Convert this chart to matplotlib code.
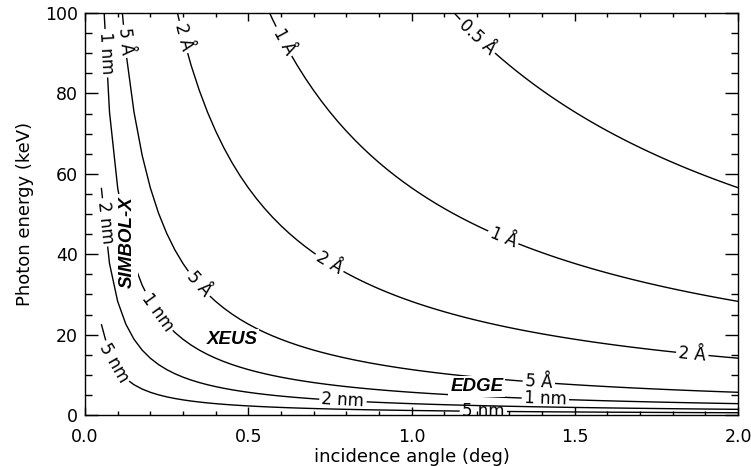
import numpy as np
import matplotlib.pyplot as plt

# roughness contours: sigma = hc / (4 pi E sin(theta))
hc = 12.398  # keV * Angstrom
sigma_levels = [0.5, 1, 2, 5, 10, 20, 50]  # Angstrom
sigma_text = ["0.5 Å", "1 Å", "2 Å", "5 Å", "1 nm", "2 nm", "5 nm"]

missions = ["SIMBOL-X", "XEUS", "EDGE"]
mission_angle = [0.13, 0.45, 1.20]
mission_energy = [43, 18.7, 7]
mission_rot = [90, 0, 0]

label_spots = [
    (1.20, 94), (0.61, 93), (0.30, 94), (0.13, 93), (0.066, 90),
    (0.07, 48), (0.34, 32), (0.21, 25), (0.09, 13),
    (1.28, 44), (0.75, 38), (1.86, 15.2), (1.39, 8.1),
    (1.41, 4.0), (0.79, 3.6), (1.22, 0.9),
]

# angle grid starts at 0.05 deg (as in the original computation)
theta = np.arange(0.05, 2.0001, 0.025)
energy = np.linspace(0.1, 100, 1000)
T, E = np.meshgrid(theta, energy)
sigma = hc / (4 * np.pi * E * np.sin(np.radians(T)))

fig = plt.figure(figsize=(7.51, 4.66), dpi=100)
ax = fig.add_axes([0.1132, 0.1094, 0.8695, 0.8627])

cs = ax.contour(T, E, sigma, levels=sigma_levels, colors="black", linewidths=1.0)
ax.clabel(cs, manual=label_spots, fmt=dict(zip(sigma_levels, sigma_text)),
          inline=True, fontsize=12, inline_spacing=3)

for name, x, y, r in zip(missions, mission_angle, mission_energy, mission_rot):
    ax.text(x, y, name, rotation=r, ha="center", va="center", fontsize=13.5,
            family="Liberation Sans", weight="bold", style="italic",
            bbox=dict(facecolor="white", edgecolor="none", pad=1.5), zorder=5)

ax.set_xlim(0, 2.0)
ax.set_ylim(0, 100)
ax.set_xticks([0.0, 0.5, 1.0, 1.5, 2.0])
ax.set_xticklabels(["0.0", "0.5", "1.0", "1.5", "2.0"])
ax.set_xticks(np.arange(0, 2.01, 0.1), minor=True)
ax.set_yticks([0, 20, 40, 60, 80, 100])
ax.set_yticks(np.arange(0, 101, 5), minor=True)
ax.tick_params(axis="both", which="both", direction="in", top=True, right=True,
               labelsize=12.5, width=1.0)
ax.tick_params(axis="x", which="major", length=6, pad=9)
ax.tick_params(axis="x", which="minor", length=3)
ax.tick_params(axis="y", which="major", length=9.5, pad=5)
ax.tick_params(axis="y", which="minor", length=5)
for s in ax.spines.values():
    s.set_linewidth(1.0)

ax.set_xlabel("incidence angle (deg)", fontsize=13, labelpad=2)
ax.set_ylabel("Photon energy (keV)", fontsize=13, labelpad=8)

fig.savefig("out.png", dpi=100)
